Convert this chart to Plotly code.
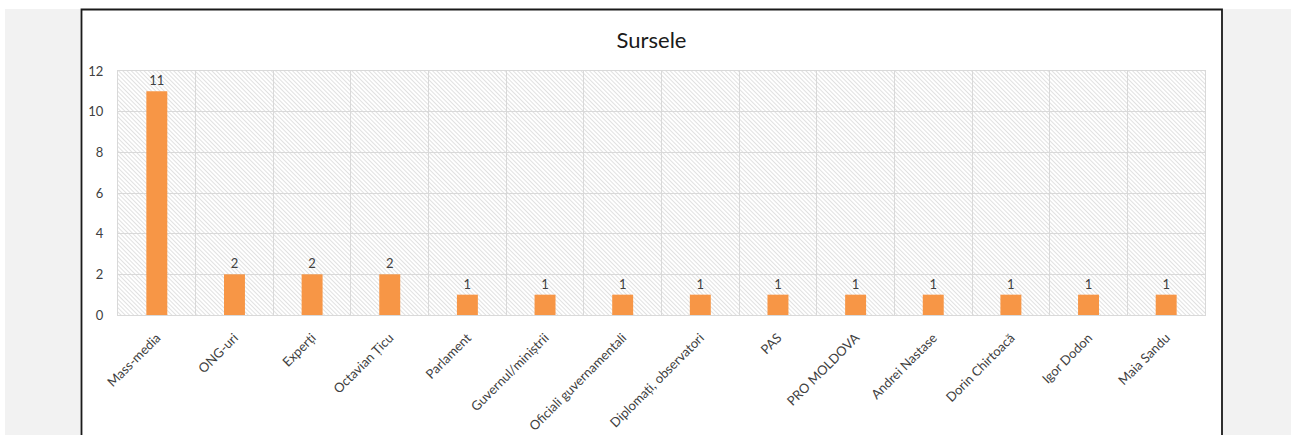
import base64
import plotly.graph_objects as go

categories = ["Mass-media", "ONG-uri", "Experți", "Octavian Țicu", "Parlament",
              "Guvernul/miniștrii", "Oficiali guvernamentali", "Diplomați, observatori",
              "PAS", "PRO MOLDOVA", "Andrei Nastase", "Dorin Chirtoacă",
              "Igor Dodon", "Maia Sandu"]
values = [11, 2, 2, 2, 1, 1, 1, 1, 1, 1, 1, 1, 1, 1]
y_ticks = [0, 2, 4, 6, 8, 10, 12]
title_text = "Sursele"

W, H = 1291, 435
L, R, T, B = 118, 1205, 71, 315
pw, ph = R - L, B - T

def px_x(p):
    return (p - L) / pw

def px_y(p):
    return (B - p) / ph

svg = f'''<svg xmlns="http://www.w3.org/2000/svg" width="{pw}" height="{ph}">
<defs><pattern id="h" width="3" height="3" patternUnits="userSpaceOnUse" patternTransform="rotate(-45)">
<rect width="3" height="3" fill="#ffffff"/>
<line x1="0" y1="0" x2="0" y2="3" stroke="#d2d2d2" stroke-width="1.3"/></pattern></defs>
<rect width="{pw}" height="{ph}" fill="url(#h)"/></svg>'''
src = "data:image/svg+xml;base64," + base64.b64encode(svg.encode()).decode()

font = "Lato, 'Open Sans', sans-serif"

fig = go.Figure(go.Bar(
    x=categories, y=values,
    marker=dict(color="#f79646", line=dict(width=0)),
    text=[str(v) for v in values], textposition="outside",
    textfont=dict(family=font, size=13, color="#404040"),
    cliponaxis=False,
))

shapes = [
    dict(type="rect", xref="paper", yref="paper", x0=px_x(5), x1=px_x(1300),
         y0=px_y(9), y1=px_y(445), fillcolor="#f2f2f2", line=dict(width=0), layer="below"),
    dict(type="rect", xref="paper", yref="paper", x0=px_x(81.5), x1=px_x(1222),
         y0=px_y(9.5), y1=px_y(445), fillcolor="#ffffff",
         line=dict(color="#1a1a1a", width=1.8), layer="below"),
]

fig.update_layout(
    width=W, height=H,
    margin=dict(l=L, r=W - R, t=T, b=H - B, autoexpand=False),
    paper_bgcolor="#ffffff", plot_bgcolor="rgba(0,0,0,0)",
    bargap=0.73,
    showlegend=False,
    title=dict(text=title_text, x=px_x(651.5), xref="paper", xanchor="center",
               y=1 - 40 / H, yanchor="middle",
               font=dict(family=font, size=22, color="#1a1a1a")),
    shapes=shapes,
    images=[dict(source=src, xref="x domain", yref="y domain", x=0, y=1,
                 sizex=1, sizey=1, xanchor="left", yanchor="top",
                 sizing="stretch", layer="below")],
    xaxis=dict(type="category", tickson="boundaries", showgrid=True,
               gridcolor="#d9d9d9", gridwidth=1.3, ticks="",
               showline=True, linecolor="#d9d9d9", linewidth=1.3, mirror=True,
               tickangle=-45, ticklabelstandoff=9,
               tickfont=dict(family=font, size=13, color="#404040")),
    yaxis=dict(range=[0, 12], tickvals=y_ticks, showgrid=True,
               gridcolor="#d9d9d9", gridwidth=1.3, zeroline=False,
               showline=True, linecolor="#d9d9d9", linewidth=1.3, mirror=True,
               ticks="", ticklabelstandoff=11,
               tickfont=dict(family=font, size=13, color="#404040")),
)

fig.write_html("out.html", config={"displayModeBar": False},
               post_script="document.body.style.margin='0';document.body.style.overflow='hidden';")
